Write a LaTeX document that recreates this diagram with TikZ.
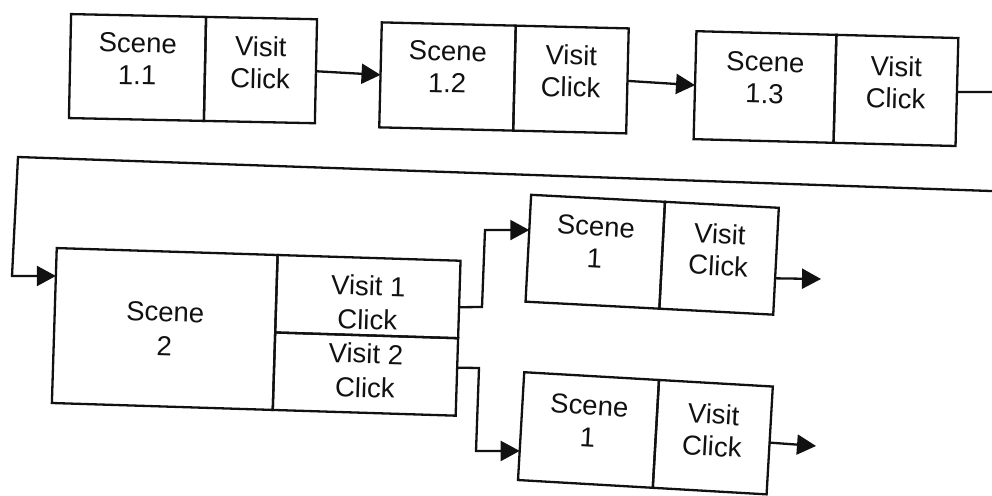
\documentclass[tikz,border=0pt]{standalone}
\usepackage{fontspec}
\setmainfont{Liberation Sans}
\usetikzlibrary{arrows.meta,calc}
\definecolor{ink}{HTML}{111111}
\tikzset{
  cell/.style={draw=ink, line width=2.3pt, inner sep=0pt, outer sep=0pt},
  lbl/.style={font=\fontsize{27.5}{32}\selectfont, text=ink, align=center, inner sep=0pt},
  biglbl/.style={font=\fontsize{27.5}{34}\selectfont, text=ink, align=center, inner sep=0pt},
  link/.style={draw=ink, line width=2.3pt},
  arr/.style={link, -{Triangle[length=19pt,width=20pt]}}
}
\begin{document}
\begin{tikzpicture}[x=1pt,y=-1pt]
\clip (0,0) rectangle (992,495);
\fill[white] (0,0) rectangle (992,495);

% ---- first chain: Scene 1.1 -> Scene 1.2 -> Scene 1.3
\node[cell, rotate=-1.2, minimum width=135pt, minimum height=104pt] (a1) at (137.5,67.5) {};
\node[cell, rotate=-1.2, anchor=west, minimum width=111pt, minimum height=104pt] (a2) at (a1.east) {};
\node[lbl, rotate=-1.2] (a1t) at ([yshift=8.5pt]a1.center) {Scene\\1.1};
\node[lbl, rotate=-1.2] (a2t) at ([yshift=7.5pt]a2.center) {Visit\\Click};

\node[cell, rotate=-1.4, minimum width=134pt, minimum height=105pt] (b1) at (447.5,76.5) {};
\node[cell, rotate=-1.4, anchor=west, minimum width=113pt, minimum height=105pt] (b2) at (b1.east) {};
\node[lbl, rotate=-1.4] (b1t) at ([yshift=9.5pt]b1.center) {Scene\\1.2};
\node[lbl, rotate=-1.4] (b2t) at ([yshift=8.5pt]b2.center) {Visit\\Click};

\node[cell, rotate=-1.5, minimum width=140pt, minimum height=108pt] (c1) at (765,87) {};
\node[cell, rotate=-1.5, anchor=west, minimum width=122pt, minimum height=108pt] (c2) at (c1.east) {};
\node[lbl, rotate=-1.5] (c1t) at ([yshift=9pt]c1.center) {Scene\\1.3};
\node[lbl, rotate=-1.5] (c2t) at ([yshift=8pt]c2.center) {Visit\\Click};

\draw[arr] (a2.east) -- (b1.west);
\draw[arr] (b2.east) -- (c1.west);

% ---- Scene 2 with two exits
\node[cell, rotate=-1.8, minimum width=221pt, minimum height=155pt] (s1) at (164.75,329) {};
\node[cell, rotate=-1.8, anchor=north west, minimum width=183pt, minimum height=77.5pt] (s2a) at (s1.north east) {};
\node[cell, rotate=-1.8, anchor=north west, minimum width=183pt, minimum height=77.5pt] (s2b) at (s2a.south west) {};
\node[biglbl, rotate=-1.8] (s1t) at (s1.center) {Scene\\2};
\node[biglbl, rotate=-1.8] (s2at) at ([yshift=-6pt]s2a.center) {Visit 1\\Click};
\node[biglbl, rotate=-1.8] (s2bt) at ([yshift=3.5pt]s2b.center) {Visit 2\\Click};

% return line from the end of the first chain into Scene 2
\coordinate (rt) at (1005,92);
\coordinate (rb) at (1005,191.5);
\coordinate (lt) at (18,157);
\coordinate (lb) at (12,276);
\coordinate (s1in) at ($(s1.north west)!0.18!(s1.south west)$);
\draw[arr] (c2.east) -- (rt) -- (rb) -- (lt) -- (lb) -- (s1in);

% ---- branch targets
\node[cell, rotate=-3, minimum width=134pt, minimum height=107pt] (d1) at (595.25,251.75) {};
\node[cell, rotate=-3, anchor=west, minimum width=114pt, minimum height=107pt] (d2) at (d1.east) {};
\node[lbl, rotate=-3] (d1t) at ([yshift=9.5pt]d1.center) {Scene\\1};
\node[lbl, rotate=-3] (d2t) at ([yshift=8.5pt]d2.center) {Visit\\Click};

\node[cell, rotate=-3.3, minimum width=135pt, minimum height=108pt] (e1) at (588.5,430) {};
\node[cell, rotate=-3.3, anchor=west, minimum width=114pt, minimum height=108pt] (e2) at (e1.east) {};
\node[lbl, rotate=-3.3] (e1t) at ([yshift=8.5pt]e1.center) {Scene\\1};
\node[lbl, rotate=-3.3] (e2t) at ([yshift=7pt]e2.center) {Visit\\Click};

% branch connectors
\coordinate (s2aout) at ($(s2a.north east)!0.6!(s2a.south east)$);
\coordinate (s2bout) at ($(s2b.north east)!0.38!(s2b.south east)$);
\coordinate (k1) at (482,307);
\coordinate (k2) at (485,230);
\coordinate (k3) at (479,368);
\coordinate (k4) at (476,451);
\coordinate (d1in) at ($(d1.north west)!0.33!(d1.south west)$);
\coordinate (e1in) at ($(e1.north west)!0.73!(e1.south west)$);
\draw[arr] (s2aout) -- (k1) -- (k2) -- (d1in);
\draw[arr] (s2bout) -- (k3) -- (k4) -- (e1in);

% open exits
\coordinate (d2out) at ($(d2.north east)!0.66!(d2.south east)$);
\coordinate (e2out) at ($(e2.north east)!0.52!(e2.south east)$);
\coordinate (dend) at (821,279);
\coordinate (eend) at (816,446);
\draw[arr] (d2out) -- (dend);
\draw[arr] (e2out) -- (eend);
\end{tikzpicture}
\end{document}
